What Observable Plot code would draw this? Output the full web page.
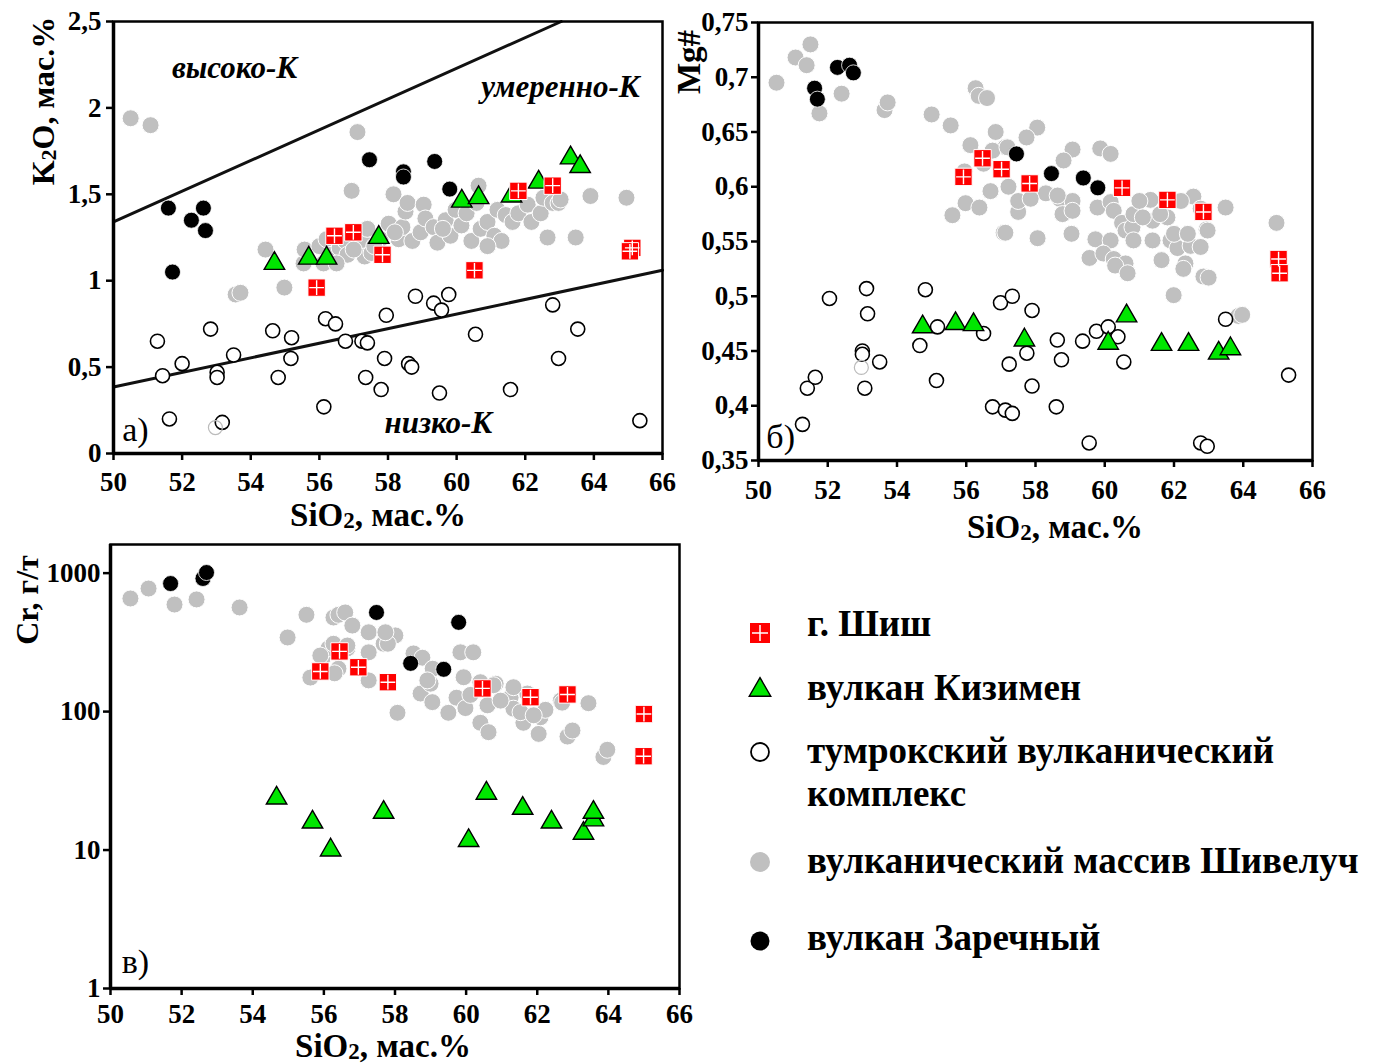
<!DOCTYPE html>
<html><head><meta charset="utf-8">
<script src="https://cdn.jsdelivr.net/npm/d3@7"></script>
<script src="https://cdn.jsdelivr.net/npm/@observablehq/plot@0.6"></script>
<style>
body{margin:0;background:#fff;}
#root{position:relative;width:1380px;height:1063px;overflow:hidden;background:#fff;}
.panel{position:absolute;}
</style></head><body><div id="root"></div>
<script>
// ---------------- DATA ----------------
const xTicks = [50,52,54,56,58,60,62,64,66];
const k2oTicks = [0,0.5,1,1.5,2,2.5];
const mgTicks = [0.35,0.4,0.45,0.5,0.55,0.6,0.65,0.7,0.75];
const crTicks = [1,10,100,1000];

// Panel a: K2O vs SiO2
const k2oShiveluch = [[50.5,1.94],[51.08,1.90],[53.56,0.92],[53.7,0.93],[54.43,1.18],[54.98,0.96],[55.54,1.10],[55.57,1.18],[56.0,1.20],[56.12,1.10],[56.21,1.24],[56.35,1.15],[56.59,1.19],[56.76,1.23],[56.82,1.15],[56.94,1.52],[57.11,1.86],[57.29,1.22],[57.32,1.14],[57.4,1.30],[57.52,1.16],[57.78,1.24],[58.02,1.33],[58.16,1.50],[58.31,1.24],[58.42,1.31],[58.51,1.40],[58.57,1.45],[58.71,1.23],[58.95,1.28],[59.04,1.44],[59.09,1.36],[59.33,1.31],[59.44,1.22],[59.68,1.35],[59.82,1.26],[59.97,1.41],[60.14,1.32],[60.29,1.39],[60.43,1.23],[60.58,1.45],[60.64,1.55],[60.7,1.30],[60.9,1.34],[61.1,1.26],[61.19,1.41],[61.31,1.23],[61.43,1.38],[61.63,1.34],[61.8,1.39],[62.07,1.44],[62.18,1.34],[62.45,1.39],[62.53,1.48],[62.65,1.25],[62.8,1.45],[62.97,1.45],[63.03,1.47],[63.47,1.25],[63.9,1.49],[64.95,1.48],[56.5,1.10],[57.0,1.18],[57.6,1.20],[58.2,1.28],[59.6,1.30],[60.9,1.20]];
const k2oTumrok = [[51.28,0.65],[51.43,0.45],[52.0,0.52],[51.63,0.20],[52.83,0.72],[53.02,0.47],[53.02,0.44],[53.17,0.18],[53.5,0.57],[54.64,0.71],[54.8,0.44],[55.19,0.67],[55.17,0.55],[56.13,0.27],[56.18,0.78],[56.47,0.75],[56.76,0.65],[57.24,0.65],[57.4,0.64],[57.35,0.44],[57.8,0.37],[57.95,0.80],[57.9,0.55],[58.8,0.91],[59.33,0.87],[59.77,0.92],[59.56,0.83],[58.6,0.52],[58.69,0.50],[59.5,0.35],[60.55,0.69],[61.57,0.37],[62.8,0.86],[62.97,0.55],[63.53,0.72],[65.34,0.19]];
const k2oTumrokFaint = [[52.97,0.15]];
const k2oZarechny = [[51.6,1.42],[52.27,1.35],[52.62,1.42],[52.68,1.29],[51.72,1.05],[57.46,1.70],[58.45,1.63],[58.45,1.60],[59.36,1.69],[59.8,1.53]];
const k2oKizimen = [[54.69,1.10],[55.69,1.13],[56.21,1.13],[57.73,1.25],[60.15,1.46],[60.64,1.48],[61.6,1.49],[62.39,1.57],[63.32,1.71],[63.6,1.66]];
const k2oShish = [[55.92,0.96],[56.44,1.26],[56.99,1.28],[57.84,1.15],[60.52,1.06],[61.8,1.52],[62.8,1.55],[65.12,1.19],[65.05,1.17]];
const highKLine = [[50,1.34],[63.05,2.5]];
const lowKLine = [[50,0.385],[66,1.06]];
const k2oLabels = [{x:53.53,y:2.228,text:"высоко-К"},{x:63.03,y:2.118,text:"умеренно-К"},{x:59.47,y:0.174,text:"низко-К"}];
const k2oLetter = [{x:50.64,y:0.133,text:"а)"}];

// Panel б: Mg# vs SiO2
const mgShiveluch = [[50.52,0.695],[51.07,0.718],[51.5,0.730],[51.39,0.711],[51.76,0.667],[52.4,0.685],[53.64,0.670],[53.73,0.677],[55.0,0.666],[55.55,0.656],[56.27,0.690],[56.36,0.683],[56.6,0.681],[56.85,0.650],[56.12,0.638],[55.6,0.574],[55.98,0.585],[56.38,0.581],[56.7,0.596],[57.08,0.558],[57.13,0.636],[56.76,0.633],[57.22,0.600],[55.95,0.614],[56.5,0.621],[58.05,0.654],[57.74,0.645],[59.07,0.634],[59.87,0.635],[60.17,0.630],[58.81,0.624],[57.19,0.636],[57.5,0.577],[58.3,0.594],[58.7,0.589],[59.07,0.587],[58.78,0.575],[57.13,0.558],[58.06,0.553],[59.04,0.557],[59.79,0.581],[60.17,0.586],[60.26,0.578],[59.73,0.552],[60.17,0.551],[59.56,0.535],[59.96,0.539],[60.26,0.534],[60.5,0.567],[60.6,0.560],[60.8,0.563],[60.83,0.551],[61.32,0.588],[61.38,0.569],[61.81,0.572],[61.38,0.551],[61.9,0.551],[62.1,0.544],[62.48,0.546],[62.77,0.545],[62.56,0.591],[62.94,0.561],[63.49,0.581],[64.96,0.567],[61.64,0.533],[62.33,0.530],[60.6,0.530],[57.5,0.587],[57.86,0.589],[59.07,0.578],[58.64,0.592],[60.83,0.575],[61.0,0.587],[61.1,0.572],[61.6,0.575],[62.2,0.587],[62.0,0.557],[62.4,0.557],[62.97,0.560],[62.77,0.580],[60.3,0.528],[60.66,0.521],[62.27,0.525],[62.85,0.518],[63.0,0.517],[61.99,0.501],[63.86,0.482],[63.97,0.483]];
const mgTumrok = [[51.27,0.383],[51.41,0.416],[51.64,0.426],[52.05,0.498],[53.12,0.507],[53.15,0.484],[53.0,0.450],[53.0,0.447],[53.07,0.416],[53.5,0.440],[54.82,0.506],[54.66,0.455],[55.17,0.472],[55.14,0.423],[56.5,0.466],[56.76,0.399],[56.99,0.494],[57.13,0.396],[57.33,0.500],[57.33,0.393],[57.9,0.487],[57.75,0.448],[57.24,0.438],[57.9,0.418],[58.63,0.460],[58.75,0.442],[58.6,0.399],[59.36,0.459],[59.76,0.468],[60.1,0.472],[60.38,0.463],[60.55,0.440],[59.55,0.366],[62.77,0.366],[62.96,0.363],[63.49,0.479],[65.31,0.428]];
const mgTumrokFaint = [[52.97,0.435]];
const mgZarechny = [[51.62,0.690],[51.7,0.680],[52.28,0.709],[52.63,0.711],[52.74,0.704],[57.45,0.630],[58.46,0.612],[59.38,0.608],[59.8,0.599]];
const mgKizimen = [[54.74,0.472],[55.69,0.475],[56.21,0.474],[57.68,0.460],[60.1,0.457],[60.63,0.482],[61.64,0.456],[62.42,0.456],[63.29,0.448],[63.63,0.452]];
const mgShish = [[55.92,0.609],[56.47,0.626],[57.02,0.616],[57.83,0.603],[60.5,0.599],[61.81,0.588],[62.85,0.577],[65.02,0.534],[65.05,0.521]];
const mgLetter = [{x:50.64,y:0.371,text:"б)"}];

// Panel в: Cr vs SiO2 (log)
const crShiveluch = [[50.56,656],[51.07,774],[51.8,593],[52.42,646],[53.63,565],[54.98,343],[55.51,500],[56.27,478],[56.41,500],[56.6,520],[56.8,418],[57.26,374],[55.62,176],[55.96,243],[56.13,286],[56.41,204],[56.66,286],[57.26,268],[57.26,168],[57.68,309],[58.01,355],[57.8,309],[58.52,263],[58.77,245],[59.06,204],[58.72,135],[59.0,159],[59.05,117],[58.07,98],[59.84,268],[60.2,268],[59.93,177],[59.73,126],[59.98,106],[59.5,98],[60.6,111],[60.4,83],[60.63,71],[60.83,159],[61.25,126],[61.33,105],[61.61,83],[61.72,135],[62.04,69],[62.09,91],[62.23,103],[62.66,120],[62.85,66],[62.99,73],[63.44,115],[63.86,47],[63.97,53],[55.9,254],[56.27,309],[56.66,300],[56.3,189],[57.73,374],[58.91,168],[60.4,163],[60.77,155],[60.97,120],[61.33,150],[61.53,99],[61.9,94],[62.7,116],[60.12,132]];
const crZarechny = [[51.69,841],[52.6,915],[52.7,1010],[57.48,520],[59.79,441],[58.44,223],[59.37,202]];
const crKizimen = [[54.67,23.7],[55.68,15.9],[56.19,10.0],[57.68,18.7],[60.07,11.7],[60.57,25.7],[61.59,20],[62.4,15.9],[63.3,13.2],[63.58,16.5],[63.58,18.7]];
const crShish = [[55.9,195],[56.44,272],[56.97,209],[57.8,163],[60.46,147],[61.81,127],[62.85,133],[65.0,96],[64.99,47.6]];
const crLetter = [{x:50.7,y:1.55,text:"в)"}];

const legendItems = ["г. Шиш","вулкан Кизимен","тумрокский вулканический|комплекс","вулканический массив Шивелуч","вулкан Заречный"];

// ---------------- STYLE ----------------
const SERIF = "'Liberation Serif','Times New Roman',serif";
const GRAY = "#c0c0c0", GREEN = "#00e600", RED = "#ff0000";
const fmt = d => String(d).replace(".", ",");
const X = d => d[0], Y = d => d[1];
const thinCross = {draw(ctx, size){const r = Math.sqrt(size)/2*0.85; ctx.moveTo(-r,0); ctx.lineTo(r,0); ctx.moveTo(0,-r); ctx.lineTo(0,r);}};

function seriesMarks(s){
  return [
    Plot.dot(s.gray, {x:X, y:Y, r:8.5, fill:GRAY, stroke:"white", strokeWidth:1}),
    Plot.dot(s.open, {x:X, y:Y, r:7, fill:"white", stroke:"black", strokeWidth:1.6}),
    Plot.dot(s.faint || [], {x:X, y:Y, r:7, fill:"none", stroke:"#bbb", strokeWidth:1.2}),
    Plot.dot(s.black, {x:X, y:Y, r:8, fill:"black", stroke:"white", strokeWidth:0.8}),
    Plot.dot(s.green, {x:X, y:Y, r:7.6, symbol:"triangle", fill:GREEN, stroke:"black", strokeWidth:1.4}),
    Plot.dot(s.red, {x:X, y:Y, r:9.8, symbol:"square", fill:RED, stroke:"white", strokeWidth:1}),
    Plot.dot(s.red, {x:X, y:Y, r:9.8, symbol:thinCross, fill:"none", stroke:"white", strokeWidth:1.4})
  ];
}

function addTitle(svg, x, y, parts, rotate, size=33){
  const t = d3.select(svg).append("text")
    .attr("transform", `translate(${x},${y})` + (rotate ? " rotate(-90)" : ""))
    .attr("text-anchor","middle").attr("font-family",SERIF).attr("font-weight","bold")
    .attr("font-size",size).attr("fill","black");
  let i = 0;
  for (const [txt, small] of parts){
    t.append("tspan").attr("font-size", small ? Math.round(size*0.7) : size).attr("dy", small ? 2 : (i>0 ? -2 : 0)).text(txt);
    i++;
  }
}

function place(svg, left, top, w){
  const div = document.createElement("div");
  div.className = "panel"; div.style.left = left+"px"; div.style.top = top+"px"; div.style.width = w+"px";
  div.appendChild(svg); document.getElementById("root").appendChild(div);
}

const baseStyle = {fontFamily:SERIF, fontSize:"27px", fontWeight:"bold", color:"black", background:"transparent", overflow:"visible"};
const TF = 27;

// ---------------- PANEL a ----------------
const pA = Plot.plot({
  width:680, height:535, marginLeft:113, marginRight:18, marginTop:21, marginBottom:82,
  style: baseStyle,
  x:{domain:[50,66]}, y:{domain:[0,2.5]},
  marks:[
    Plot.line(highKLine, {x:X, y:Y, stroke:"#111", strokeWidth:3}),
    Plot.line(lowKLine, {x:X, y:Y, stroke:"#111", strokeWidth:3}),
    ...seriesMarks({gray:k2oShiveluch, open:k2oTumrok, faint:k2oTumrokFaint, black:k2oZarechny, green:k2oKizimen, red:k2oShish}),
    Plot.text(k2oLabels, {x:"x", y:"y", text:"text", fontSize:31, fontStyle:"italic", fontWeight:"bold"}),
    Plot.text(k2oLetter, {x:"x", y:"y", text:"text", fontSize:34, fontWeight:"normal"}),
    Plot.frame({strokeWidth:2.5}),
    Plot.ruleX([50], {strokeWidth:3.5}), Plot.ruleY([0], {strokeWidth:3.5}),
    Plot.axisX({ticks:xTicks, tickSize:7, tickPadding:11, strokeWidth:2.5, fontSize:TF, label:null}),
    Plot.axisY({ticks:k2oTicks, tickFormat:fmt, tickSize:7, tickPadding:5, strokeWidth:2.5, fontSize:TF, label:null})
  ]
});
addTitle(pA, 378, 526, [["SiO"],["2",true],[", мас.%"]]);
addTitle(pA, 54, 101, [["K"],["2",true],["O, мас.%"]], true, 32);
place(pA, 0, 0, 680);

// ---------------- PANEL б ----------------
const pB = Plot.plot({
  width:700, height:545, marginLeft:78, marginRight:68, marginTop:22, marginBottom:85,
  style: baseStyle,
  x:{domain:[50,66]}, y:{domain:[0.35,0.75]},
  marks:[
    ...seriesMarks({gray:mgShiveluch, open:mgTumrok, faint:mgTumrokFaint, black:mgZarechny, green:mgKizimen, red:mgShish}),
    Plot.text(mgLetter, {x:"x", y:"y", text:"text", fontSize:34, fontWeight:"normal"}),
    Plot.frame({strokeWidth:2.5}),
    Plot.ruleX([50], {strokeWidth:3.5}), Plot.ruleY([0.35], {strokeWidth:3.5}),
    Plot.axisX({ticks:xTicks, tickSize:7, tickPadding:12, strokeWidth:2.5, fontSize:TF, label:null}),
    Plot.axisY({ticks:mgTicks, tickFormat:fmt, tickSize:7, tickPadding:3, strokeWidth:2.5, fontSize:TF, label:null})
  ]
});
addTitle(pB, 375, 538, [["SiO"],["2",true],[", мас.%"]]);
addTitle(pB, 20, 62, [["Mg#"]], true);
place(pB, 680, 0, 700);

// ---------------- PANEL в ----------------
const pC = Plot.plot({
  width:700, height:533, marginLeft:110, marginRight:21, marginTop:14, marginBottom:75,
  style: baseStyle,
  x:{domain:[50,66]}, y:{type:"log", domain:[1,1610]},
  marks:[
    ...seriesMarks({gray:crShiveluch, open:[], black:crZarechny, green:crKizimen, red:crShish}),
    Plot.text(crLetter, {x:"x", y:"y", text:"text", fontSize:34, fontWeight:"normal"}),
    Plot.frame({strokeWidth:2.5}),
    Plot.ruleX([50], {strokeWidth:3.5}), Plot.ruleY([1], {strokeWidth:3.5}),
    Plot.axisX({ticks:xTicks, tickSize:7, tickPadding:8, strokeWidth:2.5, fontSize:TF, label:null}),
    Plot.axisY({ticks:crTicks, tickFormat:d=>String(d), tickSize:7, tickPadding:3, strokeWidth:2.5, fontSize:TF, label:null})
  ]
});
addTitle(pC, 383, 527, [["SiO"],["2",true],[", мас.%"]]);
addTitle(pC, 38, 70, [["Cr, г/т"]], true, 32);
place(pC, 0, 530, 700);

// ---------------- LEGEND ----------------
const lg = d3.create("svg").attr("width",680).attr("height",420).style("overflow","visible");
const rows = [
  {sym:"square", cy:53, base:[56]},
  {sym:"triangle", cy:110, base:[120]},
  {sym:"open", cy:172, base:[183,226]},
  {sym:"gray", cy:282, base:[293]},
  {sym:"black", cy:361, base:[370]}
];
rows.forEach((r,i)=>{
  const g = lg.append("g").attr("transform",`translate(60,${r.cy})`);
  if (r.sym==="square"){
    g.append("rect").attr("x",-10.5).attr("y",-10.5).attr("width",21).attr("height",21).attr("fill",RED).attr("stroke","white");
    g.append("path").attr("d","M-8,0H8M0,-8V8").attr("stroke","white").attr("stroke-width",1.5);
  } else if (r.sym==="triangle"){
    g.append("path").attr("d",d3.symbol(d3.symbolTriangle, 200)()).attr("fill",GREEN).attr("stroke","black").attr("stroke-width",1.4);
  } else if (r.sym==="open"){
    g.append("circle").attr("r",9).attr("fill","white").attr("stroke","black").attr("stroke-width",1.8);
  } else if (r.sym==="gray"){
    g.append("circle").attr("r",10).attr("fill",GRAY);
  } else {
    g.append("circle").attr("r",9.5).attr("fill","black");
  }
  const lines = legendItems[i].split("|");
  lines.forEach((ln,j)=>{
    lg.append("text").attr("x",107).attr("y",r.base[j]).attr("font-family",SERIF).attr("font-weight","bold")
      .attr("font-size",37).attr("fill","black").text(ln);
  });
});
place(lg.node(), 700, 580, 680);
</script>
</body></html>
